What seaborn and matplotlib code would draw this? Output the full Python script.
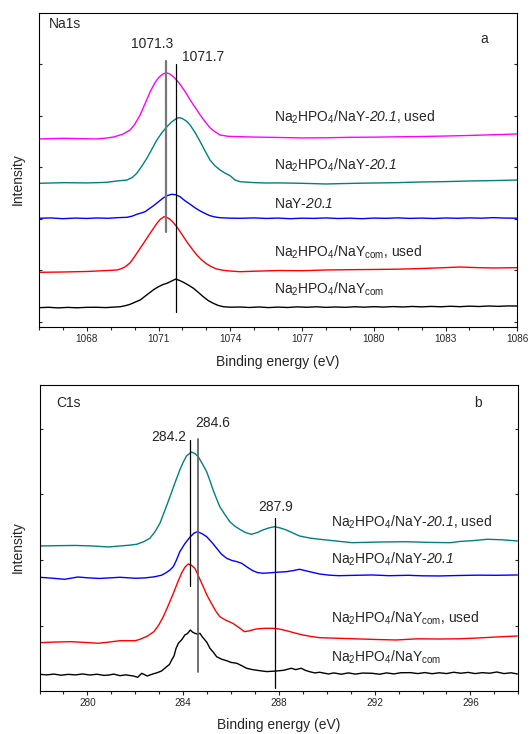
import pandas as pd
import matplotlib
matplotlib.use("Agg")
import matplotlib.pyplot as plt
import seaborn as sns
from matplotlib.ticker import MultipleLocator

# ---------------- panel a: Na1s ----------------
na_used_x = [1066.0, 1066.5, 1067.0, 1067.5, 1068.0, 1068.42, 1068.8, 1069.12, 1069.5, 1069.81, 1070.0,
             1070.23, 1070.45, 1070.65, 1070.85, 1071.0, 1071.15, 1071.32, 1071.47, 1071.62, 1071.8,
             1071.97, 1072.15, 1072.32, 1072.53, 1072.74, 1072.95, 1073.15, 1073.35, 1073.57, 1073.9,
             1074.4, 1075.0, 1076.0, 1077.0, 1078.0, 1079.0, 1080.0, 1081.0, 1082.0, 1083.0, 1084.0,
             1085.0, 1086.0]
na_used_y = [3.548, 3.555, 3.561, 3.556, 3.552, 3.548, 3.565, 3.586, 3.64, 3.722, 3.83,
             4.014, 4.25, 4.466, 4.64, 4.738, 4.80, 4.835, 4.81, 4.757, 4.67,
             4.563, 4.44, 4.305, 4.16, 4.014, 3.88, 3.767, 3.69, 3.625, 3.60,
             3.592, 3.585, 3.577, 3.568, 3.571, 3.58, 3.583, 3.59, 3.596, 3.605, 3.616,
             3.63, 3.645]

na_fresh_x = [1066.0, 1067.0, 1068.0, 1068.42, 1068.84, 1069.26, 1069.68, 1069.9, 1070.09, 1070.3,
              1070.51, 1070.72, 1070.93, 1071.14, 1071.35, 1071.55, 1071.76, 1071.87, 1071.97, 1072.15,
              1072.32, 1072.53, 1072.74, 1072.95, 1073.15, 1073.35, 1073.57, 1073.8, 1073.99, 1074.2,
              1074.41, 1075.0, 1075.5, 1076.0, 1077.0, 1078.0, 1079.0, 1080.0, 1081.0, 1082.0,
              1083.0, 1084.0, 1085.0, 1086.0]
na_fresh_y = [2.687, 2.699, 2.695, 2.699, 2.707, 2.732, 2.751, 2.80, 2.882, 3.02,
              3.173, 3.35, 3.528, 3.67, 3.786, 3.88, 3.950, 3.96, 3.950, 3.90,
              3.819, 3.67, 3.495, 3.31, 3.140, 3.03, 2.946, 2.88, 2.835, 2.75,
              2.718, 2.70, 2.693, 2.695, 2.687, 2.674, 2.685, 2.693, 2.70, 2.713,
              2.72, 2.732, 2.74, 2.751]

na_nay_x = [1066.0, 1066.5, 1067.0, 1067.5, 1068.0, 1068.42, 1068.9, 1069.3, 1069.68, 1069.9, 1070.09,
            1070.27, 1070.44, 1070.6, 1070.79, 1071.0, 1071.21, 1071.38, 1071.55, 1071.72, 1071.9,
            1072.1, 1072.32, 1072.53, 1072.74, 1072.95, 1073.15, 1073.35, 1073.57, 1074.0, 1074.41,
            1075.0, 1075.5, 1076.0, 1076.5, 1077.0, 1077.5, 1078.0, 1078.5, 1079.0, 1079.5, 1080.0,
            1080.5, 1081.0, 1081.5, 1082.0, 1082.5, 1083.0, 1083.5, 1084.0, 1084.5, 1085.0, 1085.5,
            1086.0]
na_nay_y = [2.008, 2.015, 2.0, 2.012, 2.005, 2.014, 2.008, 2.02, 2.027, 2.05, 2.085,
            2.11, 2.136, 2.19, 2.252, 2.33, 2.408, 2.45, 2.474, 2.465, 2.427,
            2.35, 2.280, 2.21, 2.150, 2.10, 2.058, 2.035, 2.019, 2.01, 2.008,
            2.015, 2.005, 2.012, 2.0, 2.01, 2.006, 2.015, 2.004, 2.01, 2.0, 2.012,
            2.007, 2.016, 2.006, 2.012, 2.004, 2.014, 2.008, 2.016, 2.01, 2.02, 2.012,
            2.01]

na_com_used_x = [1066.0, 1067.0, 1068.0, 1068.42, 1068.9, 1069.26, 1069.45, 1069.61, 1069.8, 1069.95,
                 1070.15, 1070.37, 1070.58, 1070.79, 1070.93, 1071.07, 1071.23, 1071.35, 1071.48,
                 1071.62, 1071.76, 1071.97, 1072.18, 1072.39, 1072.6, 1072.8, 1073.02, 1073.22,
                 1073.43, 1073.7, 1073.99, 1074.41, 1075.0, 1076.0, 1077.0, 1078.0, 1079.0, 1080.0,
                 1081.0, 1082.0, 1083.0, 1083.6, 1084.3, 1085.0, 1086.0]
na_com_used_y = [0.959, 0.965, 0.975, 0.984, 0.995, 1.004, 1.03, 1.068, 1.14, 1.231,
                 1.37, 1.522, 1.67, 1.814, 1.91, 1.988, 2.039, 2.025, 1.988,
                 1.925, 1.845, 1.70, 1.553, 1.42, 1.295, 1.20, 1.120, 1.065,
                 1.023, 0.998, 0.984, 0.971, 0.98, 0.994, 0.99, 1.004, 1.01, 1.014,
                 1.02, 1.033, 1.05, 1.062, 1.05, 1.043, 1.049]

na_com_x = [1066.0, 1066.4, 1066.8, 1067.2, 1067.6, 1068.0, 1068.42, 1068.8, 1069.1, 1069.4, 1069.6,
            1069.81, 1070.02, 1070.23, 1070.45, 1070.65, 1070.82, 1071.0, 1071.18, 1071.35, 1071.55,
            1071.72, 1071.88, 1072.04, 1072.25, 1072.46, 1072.66, 1072.87, 1073.08, 1073.29, 1073.5,
            1073.71, 1074.0, 1074.41, 1074.8, 1075.2, 1075.6, 1076.0, 1076.4, 1076.8, 1077.2, 1077.6,
            1078.0, 1078.4, 1078.8, 1079.2, 1079.6, 1080.0, 1080.4, 1080.8, 1081.2, 1081.6, 1082.0,
            1082.4, 1082.8, 1083.2, 1083.6, 1084.0, 1084.4, 1084.8, 1085.2, 1085.6, 1086.0]
na_com_y = [0.272, 0.28, 0.268, 0.278, 0.27, 0.279, 0.280, 0.274, 0.283, 0.291, 0.31,
            0.338, 0.38, 0.421, 0.50, 0.571, 0.63, 0.680, 0.72, 0.746, 0.79,
            0.829, 0.80, 0.765, 0.71, 0.649, 0.57, 0.485, 0.41, 0.357, 0.315,
            0.291, 0.282, 0.285, 0.276, 0.286, 0.274, 0.284, 0.276, 0.288, 0.28, 0.29,
            0.278, 0.286, 0.279, 0.29, 0.282, 0.292, 0.284, 0.294, 0.286, 0.296, 0.288,
            0.297, 0.29, 0.30, 0.292, 0.302, 0.295, 0.305, 0.298, 0.306, 0.305]

# ---------------- panel b: C1s ----------------
c_used_x = [278.0, 278.8, 279.5, 280.2, 280.9, 281.36, 281.7, 282.06, 282.35, 282.61, 282.82, 283.03,
            283.24, 283.45, 283.65, 283.86, 284.0, 284.14, 284.35, 284.5, 284.63, 284.8, 284.98,
            285.12, 285.25, 285.4, 285.53, 285.75, 285.95, 286.15, 286.36, 286.6, 286.85, 287.1,
            287.33, 287.58, 287.82, 288.05, 288.31, 288.6, 288.86, 289.3, 289.7, 290.4, 291.06,
            292.2, 293.3, 294.2, 295.15, 295.6, 296.1, 296.7, 297.3, 297.96]
c_used_y = [2.215, 2.22, 2.223, 2.215, 2.200, 2.215, 2.225, 2.241, 2.28, 2.332, 2.43, 2.561,
            2.76, 2.966, 3.17, 3.373, 3.49, 3.587, 3.648, 3.62, 3.576, 3.47, 3.348,
            3.21, 3.069, 2.93, 2.814, 2.69, 2.585, 2.52, 2.470, 2.42, 2.393, 2.42,
            2.459, 2.49, 2.509, 2.49, 2.459, 2.41, 2.367, 2.335, 2.317, 2.29, 2.265,
            2.275, 2.280, 2.27, 2.265, 2.285, 2.296, 2.317, 2.31, 2.291]

c_fresh_x = [278.0, 278.5, 279.05, 279.6, 280.0, 280.5, 281.0, 281.36, 281.7, 282.0, 282.4, 282.8,
             283.1, 283.3, 283.45, 283.59, 283.72, 283.86, 284.07, 284.28, 284.45, 284.6, 284.8,
             284.98, 285.2, 285.4, 285.6, 285.82, 286.03, 286.24, 286.45, 286.65, 286.9, 287.1,
             287.33, 287.6, 287.89, 288.31, 288.6, 288.86, 289.2, 289.7, 290.1, 290.5, 291.2,
             291.9, 292.6, 293.4, 294.0, 294.7, 295.5, 296.3, 297.1, 297.96]
c_fresh_y = [1.738, 1.725, 1.707, 1.742, 1.73, 1.72, 1.73, 1.738, 1.73, 1.723, 1.728, 1.745,
             1.77, 1.81, 1.849, 1.9, 2.0, 2.128, 2.25, 2.348, 2.41, 2.433, 2.40,
             2.357, 2.27, 2.180, 2.09, 2.027, 1.995, 1.976, 1.95, 1.899, 1.84, 1.81,
             1.799, 1.805, 1.814, 1.823, 1.84, 1.860, 1.83, 1.788, 1.77, 1.762, 1.768,
             1.773, 1.762, 1.768, 1.76, 1.758, 1.765, 1.77, 1.768, 1.773]

c_com_used_x = [278.0, 278.6, 279.3, 279.9, 280.46, 280.9, 281.36, 282.0, 282.2, 282.5, 282.78,
                282.98, 283.17, 283.38, 283.59, 283.76, 283.93, 284.07, 284.21, 284.35, 284.49,
                284.66, 284.84, 285.0, 285.18, 285.35, 285.53, 285.8, 286.07, 286.3, 286.56,
                286.75, 287.05, 287.4, 287.75, 288.0, 288.31, 288.65, 289.0, 289.35, 289.7,
                290.5, 291.2, 292.0, 292.9, 293.8, 294.7, 295.5, 296.3, 297.2, 297.96]
c_com_used_y = [0.741, 0.75, 0.756, 0.745, 0.732, 0.75, 0.771, 0.771, 0.793, 0.84, 0.909,
                1.01, 1.137, 1.31, 1.494, 1.65, 1.799, 1.89, 1.941, 1.92, 1.875,
                1.74, 1.595, 1.46, 1.341, 1.23, 1.137, 1.08, 1.037, 0.98, 0.909,
                0.92, 0.950, 0.96, 0.960, 0.95, 0.924, 0.89, 0.858, 0.835, 0.817,
                0.808, 0.80, 0.79, 0.782, 0.80, 0.797, 0.80, 0.812, 0.83, 0.843]

c_com_x = [278.0, 278.3, 278.6, 278.9, 279.2, 279.5, 279.8, 280.1, 280.4, 280.7, 280.9, 281.1,
           281.36, 281.6, 281.92, 282.1, 282.27, 282.5, 282.7, 282.92, 283.1, 283.31, 283.43,
           283.52, 283.62, 283.7, 283.8, 283.95, 284.07, 284.18, 284.3, 284.4, 284.49, 284.6,
           284.7, 284.8, 284.91, 285.0, 285.12, 285.25, 285.4, 285.6, 285.82, 286.0, 286.24,
           286.45, 286.65, 286.9, 287.2, 287.5, 287.89, 288.2, 288.52, 288.7, 288.93, 289.1,
           289.28, 289.5, 289.7, 290.07, 290.3, 290.6, 290.9, 291.2, 291.5, 291.9, 292.2,
           292.5, 292.8, 293.1, 293.5, 293.8, 294.1, 294.4, 294.7, 295.0, 295.3, 295.6,
           295.9, 296.2, 296.5, 296.8, 297.1, 297.4, 297.7, 297.96]
c_com_y = [0.259, 0.25, 0.262, 0.245, 0.258, 0.25, 0.264, 0.248, 0.26, 0.242, 0.248, 0.262,
           0.238, 0.25, 0.233, 0.213, 0.274, 0.233, 0.26, 0.284, 0.31, 0.375, 0.41,
           0.477, 0.54, 0.65, 0.732, 0.79, 0.858, 0.88, 0.934, 0.90, 0.884, 0.87,
           0.884, 0.83, 0.782, 0.74, 0.655, 0.60, 0.527, 0.49, 0.466, 0.44, 0.427,
           0.39, 0.351, 0.33, 0.314, 0.30, 0.309, 0.32, 0.351, 0.33, 0.351, 0.32,
           0.299, 0.28, 0.290, 0.264, 0.28, 0.26, 0.28, 0.262, 0.278, 0.274, 0.26,
           0.28, 0.265, 0.283, 0.284, 0.27, 0.285, 0.268, 0.282, 0.27, 0.29, 0.275,
           0.288, 0.27, 0.284, 0.275, 0.294, 0.27, 0.282, 0.264]

# peak marker lines: (position, y from, y to)
na_marks = [(1071.32, 1.732, 5.062), (1071.72, 0.194, 5.004)]
c_marks = [(284.28, 1.610, 3.831), (284.6, 0.299, 3.841), (287.85, 0.046, 2.637)]

# \mathsf is mapped to the italic face below (mathtext keeps digits upright in \mathit)
lbl_used = r"Na$_2$HPO$_4$/NaY-$\mathsf{20.1}$, used"
lbl_fresh = r"Na$_2$HPO$_4$/NaY-$\mathsf{20.1}$"
lbl_nay = r"NaY-$\mathsf{20.1}$"
lbl_com_used = r"Na$_2$HPO$_4$/NaY$_{\mathrm{com}}$, used"
lbl_com = r"Na$_2$HPO$_4$/NaY$_{\mathrm{com}}$"

colors = {"used": "#FF00FF", "fresh": "#008080", "nay": "#0000FF",
          "com_used": "#FF0000", "com": "#000000"}
colors_b = {"used": "#008080", "fresh": "#0000FF", "com_used": "#FF0000", "com": "#000000"}


def long_df(series):
    parts = []
    for key, xs, ys in series:
        parts.append(pd.DataFrame({"energy": xs, "intensity": ys, "sample": key}))
    return pd.concat(parts, ignore_index=True)


df_a = long_df([("used", na_used_x, na_used_y), ("fresh", na_fresh_x, na_fresh_y),
                ("nay", na_nay_x, na_nay_y), ("com_used", na_com_used_x, na_com_used_y),
                ("com", na_com_x, na_com_y)])
df_b = long_df([("used", c_used_x, c_used_y), ("fresh", c_fresh_x, c_fresh_y),
                ("com_used", c_com_used_x, c_com_used_y), ("com", c_com_x, c_com_y)])

sns.set_style("ticks")
plt.rcParams['font.family'] = ['Liberation Sans', 'DejaVu Sans']
plt.rcParams['mathtext.fontset'] = 'custom'
plt.rcParams['mathtext.rm'] = 'Liberation Sans'
plt.rcParams['mathtext.it'] = 'Liberation Sans:italic'
plt.rcParams['mathtext.sf'] = 'Liberation Sans:italic'
plt.rcParams['mathtext.bf'] = 'Liberation Sans:bold'

fig = plt.figure(figsize=(5.31, 7.34), dpi=100)
ax1 = fig.add_axes([0.0734, 0.5549, 0.9008, 0.4270])
ax2 = fig.add_axes([0.0744, 0.0590, 0.9017, 0.4165])

sns.lineplot(data=df_a, x="energy", y="intensity", hue="sample", palette=colors,
             estimator=None, sort=False, legend=False, linewidth=1.0, ax=ax1)
sns.lineplot(data=df_b, x="energy", y="intensity", hue="sample", palette=colors_b,
             estimator=None, sort=False, legend=False, linewidth=1.0, ax=ax2)

# vertical peak markers
ax1.plot([na_marks[0][0]] * 2, na_marks[0][1:], color="#777777", lw=1.6)
ax1.plot([na_marks[1][0]] * 2, na_marks[1][1:], color="black", lw=0.9)
ax2.plot([c_marks[0][0]] * 2, c_marks[0][1:], color="black", lw=0.9)
ax2.plot([c_marks[1][0]] * 2, c_marks[1][1:], color="#666666", lw=1.3)
ax2.plot([c_marks[2][0]] * 2, c_marks[2][1:], color="black", lw=0.9)

ax1.set_xlim(1066, 1086)
ax1.set_ylim(-0.097, 5.988)
ax1.set_xticks([1068, 1071, 1074, 1077, 1080, 1083, 1086])
ax1.xaxis.set_minor_locator(MultipleLocator(1))

ax2.set_xlim(278, 298)
ax2.set_ylim(0.009, 4.669)
ax2.set_xticks([280, 284, 288, 292, 296])
ax2.xaxis.set_minor_locator(MultipleLocator(1))

for ax in (ax1, ax2):
    ax.yaxis.set_major_locator(MultipleLocator(1))
    ax.tick_params(axis="y", which="both", direction="in", left=True, right=True,
                   labelleft=False, length=2, width=0.8)
    ax.tick_params(axis="x", which="major", direction="out", length=3, width=0.8,
                   labelsize=7.2, pad=2.5, top=False)
    ax.tick_params(axis="x", which="minor", direction="out", length=2, width=0.8, top=False)
    for sp in ax.spines.values():
        sp.set_linewidth(0.8)
        sp.set_color("black")
    ax.set_xlabel("Binding energy (eV)", fontsize=10)
    ax.set_ylabel("Intensity", fontsize=10)
    ax.xaxis.set_label_coords(0.5, -0.09)
    ax.yaxis.set_label_coords(-0.03, 0.47)

fs = 10
ax1.text(0.02, 0.965, "Na1s", transform=ax1.transAxes, fontsize=fs, va="center", ha="left")
ax1.text(0.930, 0.917, "a", transform=ax1.transAxes, fontsize=fs, va="center", ha="center")
ax1.text(1070.73, 5.32, "1071.3", fontsize=fs, ha="center", va="baseline")
ax1.text(1072.86, 5.07, "1071.7", fontsize=fs, ha="center", va="baseline")
ax1.text(1075.83, 3.887, lbl_used, fontsize=fs, va="baseline")
ax1.text(1075.83, 2.946, lbl_fresh, fontsize=fs, va="baseline")
ax1.text(1075.83, 2.217, lbl_nay, fontsize=fs, va="baseline")
ax1.text(1075.83, 1.256, lbl_com_used, fontsize=fs, va="baseline")
ax1.text(1075.83, 0.547, lbl_com, fontsize=fs, va="baseline")

ax2.text(0.0345, 0.94, "C1s", transform=ax2.transAxes, fontsize=fs, va="center", ha="left")
ax2.text(0.916, 0.94, "b", transform=ax2.transAxes, fontsize=fs, va="center", ha="center")
ax2.text(283.41, 3.808, "284.2", fontsize=fs, ha="center", va="baseline")
ax2.text(285.23, 4.021, "284.6", fontsize=fs, ha="center", va="baseline")
ax2.text(287.88, 2.75, "287.9", fontsize=fs, ha="center", va="baseline")
ax2.text(290.16, 2.512, lbl_used, fontsize=fs, va="baseline")
ax2.text(290.16, 1.948, lbl_fresh, fontsize=fs, va="baseline")
ax2.text(290.16, 1.049, lbl_com_used, fontsize=fs, va="baseline")
ax2.text(290.16, 0.454, lbl_com, fontsize=fs, va="baseline")

fig.savefig("out.png", dpi=100)
